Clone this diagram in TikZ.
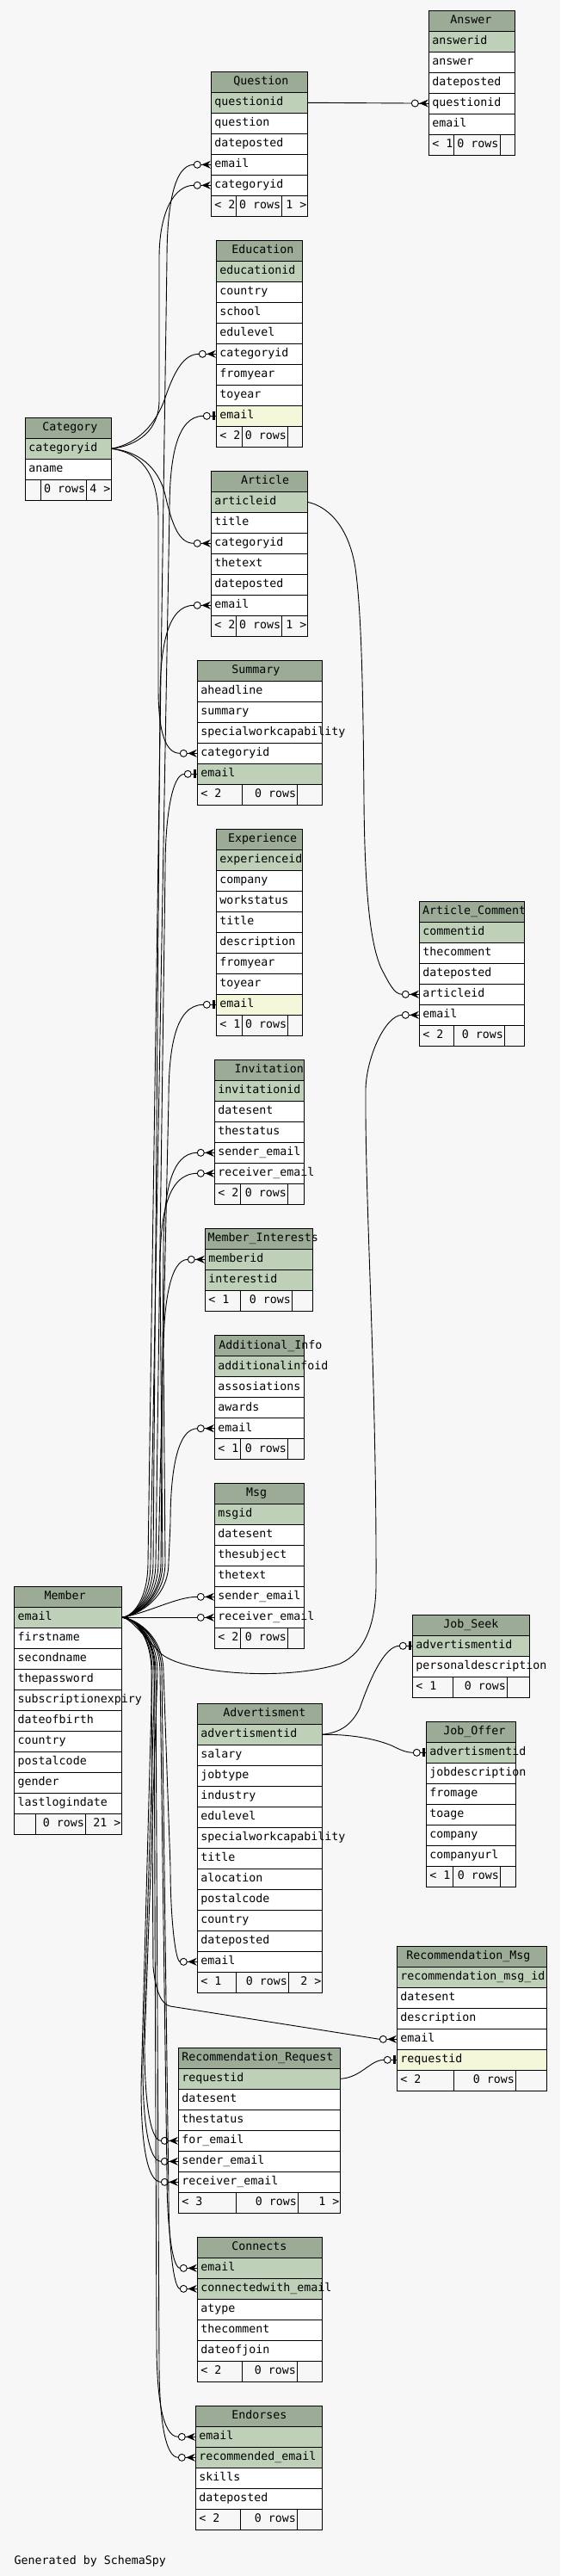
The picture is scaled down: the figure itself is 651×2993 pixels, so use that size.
\documentclass[tikz,border=0pt]{standalone}
\usepackage{fontspec}
\newfontfamily\erfont{DejaVu Sans Mono}
\definecolor{bgc}{HTML}{F7F7F7}
\definecolor{hdrc}{HTML}{9BAB96}
\definecolor{keyc}{HTML}{BED1B8}
\definecolor{idxc}{HTML}{F4F7DA}
\tikzset{
 ercell/.style={draw=black, line width=1pt, rectangle, anchor=north west, minimum height=24pt, inner sep=0pt, outer sep=0pt},
 ertext/.style={anchor=base west, inner sep=0pt, outer sep=0pt, font=\erfont\fontsize{13.3pt}{16pt}\selectfont},
 erconn/.style={draw=black, line width=0.9pt},
}
\newcommand\ernext{\pgfmathsetmacro\ertmpy{\ty+24}\global\let\ty\ertmpy}
\newcommand\erbeg[6]{%
 \gdef\tx{#2}\gdef\tw{#4}\gdef\ty{#3}%
 \node[ercell, fill=hdrc, minimum width=#4pt] (#1) at (#2,#3) {};%
 \node[ertext] (#1-t) at (#6,#3+15.5) {#5};%
 \ernext}
\newcommand\errow[3]{%
 \node[ercell, fill=#2, minimum width=\tw pt] (#1) at (\tx,\ty) {};%
 \node[ertext] (#1-t) at (\tx+4,\ty+15.5) {#3};%
 \ernext}
\newcommand\erfoot[6]{%
 \node[ercell, fill=bgc, minimum width=\tw pt] (#1) at (\tx,\ty) {};%
 \draw[line width=1pt] (#2,\ty) -- (#2,\ty+24);%
 \draw[line width=1pt] (#3,\ty) -- (#3,\ty+24);%
 \node[ertext] (#1-l) at (\tx+4,\ty+15.5) {#4};%
 \node[ertext, anchor=base east] (#1-m) at (#3-1.5,\ty+15.5) {#5};%
 \node[ertext, anchor=base east] (#1-r) at (\tx+\tw-1,\ty+15.5) {#6};}
\newcommand\emany[1]{%
 \coordinate (#1-in) at ([xshift=-20pt]#1.west);%
 \draw[erconn, fill=white] ([xshift=-16pt]#1.west) circle[radius=4pt];%
 \draw[erconn] ([xshift=-12pt]#1.west) -- (#1.west);%
 \fill ([xshift=-11pt]#1.west) -- ([xshift=-0.5pt,yshift=4.5pt]#1.west) -- ([xshift=-4pt]#1.west) -- ([xshift=-0.5pt,yshift=-4.5pt]#1.west) -- cycle;}
\newcommand\eone[1]{%
 \coordinate (#1-in) at ([xshift=-15pt]#1.west);%
 \draw[erconn, fill=white] ([xshift=-11pt]#1.west) circle[radius=4pt];%
 \draw[erconn] ([xshift=-7pt]#1.west) -- (#1.west);%
 \fill ([xshift=-4.5pt,yshift=-5pt]#1.west) rectangle ([xshift=-1.5pt,yshift=5pt]#1.west);}
\newcommand\mup[4]{\draw[erconn] (M-email.east) .. controls (152,1879) and (#2,1862) .. (#2,1815) -- (#3,#4+110) .. controls (#3,#4+50) and (#3+8,#4) .. (#1-in);}
\newcommand\mdown[4]{\draw[erconn] (M-email.east) .. controls (152,1879) and (#2,1896) .. (#2,1943) -- (#3,#4-110) .. controls (#3,#4-50) and (#3+6,#4) .. (#1-in);}
\begin{document}
\begin{tikzpicture}[x=1pt,y=-1pt]
\fill[bgc] (0,0) rectangle (651,2993);
\useasboundingbox (0,0) rectangle (651,2993);
% Question
\erbeg{Q}{245.3}{83.3}{112}{Question}{271.3}
\errow{Q-questionid}{keyc}{questionid}
\errow{Q-question}{white}{question}
\errow{Q-dateposted}{white}{dateposted}
\errow{Q-email}{white}{email}
\errow{Q-categoryid}{white}{categoryid}
\erfoot{Q-f}{274.7}{327.7}{< 2}{0 rows}{1 >}
% Answer
\erbeg{AN}{498.3}{12}{100}{Answer}{523.3}
\errow{AN-answerid}{keyc}{answerid}
\errow{AN-answer}{white}{answer}
\errow{AN-dateposted}{white}{dateposted}
\errow{AN-questionid}{white}{questionid}
\errow{AN-email}{white}{email}
\erfoot{AN-f}{527.3}{581}{< 1}{0 rows}{}
% Education
\erbeg{E}{251.3}{279.3}{100}{Education}{269.3}
\errow{E-educationid}{keyc}{educationid}
\errow{E-country}{white}{country}
\errow{E-school}{white}{school}
\errow{E-edulevel}{white}{edulevel}
\errow{E-categoryid}{white}{categoryid}
\errow{E-fromyear}{white}{fromyear}
\errow{E-toyear}{white}{toyear}
\errow{E-email}{idxc}{email}
\erfoot{E-f}{281.7}{334.3}{< 2}{0 rows}{}
% Category
\erbeg{C}{29.3}{485.3}{100}{Category}{49.3}
\errow{C-categoryid}{keyc}{categoryid}
\errow{C-aname}{white}{aname}
\erfoot{C-f}{47.3}{100.7}{}{0 rows}{4 >}
% Article
\erbeg{AR}{245.3}{547.3}{112}{Article}{280}
\errow{AR-articleid}{keyc}{articleid}
\errow{AR-title}{white}{title}
\errow{AR-categoryid}{white}{categoryid}
\errow{AR-thetext}{white}{thetext}
\errow{AR-dateposted}{white}{dateposted}
\errow{AR-email}{white}{email}
\erfoot{AR-f}{274.7}{327.7}{< 2}{0 rows}{1 >}
% Summary
\erbeg{S}{229.3}{767.3}{145}{Summary}{269.3}
\errow{S-aheadline}{white}{aheadline}
\errow{S-summary}{white}{summary}
\errow{S-swc}{white}{specialworkcapability}
\errow{S-categoryid}{white}{categoryid}
\errow{S-email}{keyc}{email}
\erfoot{S-f}{281.7}{345.7}{< 2}{0 rows}{}
% Experience
\erbeg{X}{251.3}{963.3}{100}{Experience}{265}
\errow{X-experienceid}{keyc}{experienceid}
\errow{X-company}{white}{company}
\errow{X-workstatus}{white}{workstatus}
\errow{X-title}{white}{title}
\errow{X-description}{white}{description}
\errow{X-fromyear}{white}{fromyear}
\errow{X-toyear}{white}{toyear}
\errow{X-email}{idxc}{email}
\erfoot{X-f}{281.7}{334.7}{< 1}{0 rows}{}
% Article_Comment
\erbeg{AC}{487.3}{1047.3}{122}{Article\_Comment}{491}
\errow{AC-commentid}{keyc}{commentid}
\errow{AC-thecomment}{white}{thecomment}
\errow{AC-dateposted}{white}{dateposted}
\errow{AC-articleid}{white}{articleid}
\errow{AC-email}{white}{email}
\erfoot{AC-f}{527.7}{586.3}{< 2}{0 rows}{}
% Invitation
\erbeg{I}{249.3}{1231.3}{104}{Invitation}{272.7}
\errow{I-invitationid}{keyc}{invitationid}
\errow{I-datesent}{white}{datesent}
\errow{I-thestatus}{white}{thestatus}
\errow{I-sender}{white}{sender\_email}
\errow{I-receiver}{white}{receiver\_email}
\erfoot{I-f}{279.3}{334.3}{< 2}{0 rows}{}
% Member_Interests
\erbeg{MI}{238.3}{1427.3}{125}{Member\_Interests}{241.7}
\errow{MI-memberid}{keyc}{memberid}
\errow{MI-interestid}{keyc}{interestid}
\erfoot{MI-f}{279.3}{339.3}{< 1}{0 rows}{}
% Additional_Info
\erbeg{AI}{249.3}{1551.7}{104}{Additional\_Info}{254.3}
\errow{AI-additionalinfoid}{keyc}{additionalinfoid}
\errow{AI-assosiations}{white}{assosiations}
\errow{AI-awards}{white}{awards}
\errow{AI-email}{white}{email}
\erfoot{AI-f}{279.3}{334.3}{< 1}{0 rows}{}
% Msg
\erbeg{MS}{249.3}{1723.3}{104}{Msg}{286}
\errow{MS-msgid}{keyc}{msgid}
\errow{MS-datesent}{white}{datesent}
\errow{MS-thesubject}{white}{thesubject}
\errow{MS-thetext}{white}{thetext}
\errow{MS-sender}{white}{sender\_email}
\errow{MS-receiver}{white}{receiver\_email}
\erfoot{MS-f}{279.3}{334.3}{< 2}{0 rows}{}
% Member
\erbeg{M}{16.7}{1843.3}{124.6}{Member}{51.7}
\errow{M-email}{keyc}{email}
\errow{M-firstname}{white}{firstname}
\errow{M-secondname}{white}{secondname}
\errow{M-thepassword}{white}{thepassword}
\errow{M-subscriptionexpiry}{white}{subscriptionexpiry}
\errow{M-dateofbirth}{white}{dateofbirth}
\errow{M-country}{white}{country}
\errow{M-postalcode}{white}{postalcode}
\errow{M-gender}{white}{gender}
\errow{M-lastlogindate}{white}{lastlogindate}
\erfoot{M-f}{41.7}{99.3}{}{0 rows}{21 >}
% Advertisment
\erbeg{AD}{229.3}{1979.3}{145}{Advertisment}{259.3}
\errow{AD-advertismentid}{keyc}{advertismentid}
\errow{AD-salary}{white}{salary}
\errow{AD-jobtype}{white}{jobtype}
\errow{AD-industry}{white}{industry}
\errow{AD-edulevel}{white}{edulevel}
\errow{AD-swc}{white}{specialworkcapability}
\errow{AD-title}{white}{title}
\errow{AD-alocation}{white}{alocation}
\errow{AD-postalcode}{white}{postalcode}
\errow{AD-country}{white}{country}
\errow{AD-dateposted}{white}{dateposted}
\errow{AD-email}{white}{email}
\erfoot{AD-f}{274.3}{335.3}{< 1}{0 rows}{2 >}
% Job_Seek
\erbeg{JS}{479.3}{1876.3}{136}{Job\_Seek}{515.3}
\errow{JS-advertismentid}{keyc}{advertismentid}
\errow{JS-personaldescription}{white}{personaldescription}
\erfoot{JS-f}{526.3}{589.3}{< 1}{0 rows}{}
% Job_Offer
\erbeg{JO}{495.3}{2000.3}{104}{Job\_Offer}{515.3}
\errow{JO-advertismentid}{keyc}{advertismentid}
\errow{JO-jobdescription}{white}{jobdescription}
\errow{JO-fromage}{white}{fromage}
\errow{JO-toage}{white}{toage}
\errow{JO-company}{white}{company}
\errow{JO-companyurl}{white}{companyurl}
\erfoot{JO-f}{526.7}{581.3}{< 1}{0 rows}{}
% Recommendation_Msg
\erbeg{RM}{461.3}{2261.3}{174}{Recommendation\_Msg}{472.3}
\errow{RM-id}{keyc}{recommendation\_msg\_id}
\errow{RM-datesent}{white}{datesent}
\errow{RM-description}{white}{description}
\errow{RM-email}{white}{email}
\errow{RM-requestid}{idxc}{requestid}
\erfoot{RM-f}{527.3}{599.3}{< 2}{0 rows}{}
% Recommendation_Request
\erbeg{RR}{207.3}{2379.3}{188}{Recommendation\_Request}{211.3}
\errow{RR-requestid}{keyc}{requestid}
\errow{RR-datesent}{white}{datesent}
\errow{RR-thestatus}{white}{thestatus}
\errow{RR-for}{white}{for\_email}
\errow{RR-sender}{white}{sender\_email}
\errow{RR-receiver}{white}{receiver\_email}
\erfoot{RR-f}{274.3}{346.3}{< 3}{0 rows}{1 >}
% Connects
\erbeg{CN}{229.3}{2599.3}{145}{Connects}{269.3}
\errow{CN-email}{keyc}{email}
\errow{CN-cw}{keyc}{connectedwith\_email}
\errow{CN-atype}{white}{atype}
\errow{CN-thecomment}{white}{thecomment}
\errow{CN-dateofjoin}{white}{dateofjoin}
\erfoot{CN-f}{281.7}{345.3}{< 2}{0 rows}{}
% Endorses
\erbeg{EN}{227.3}{2795.3}{147}{Endorses}{269.3}
\errow{EN-email}{keyc}{email}
\errow{EN-rec}{keyc}{recommended\_email}
\errow{EN-skills}{white}{skills}
\errow{EN-dateposted}{white}{dateposted}
\erfoot{EN-f}{279.3}{345.3}{< 2}{0 rows}{}
% footer text
\node[ertext] (gen) at (16.7,2979.3) {Generated by SchemaSpy};
% markers
\emany{AN-questionid}\emany{Q-email}\emany{Q-categoryid}\emany{E-categoryid}\eone{E-email}
\emany{AR-categoryid}\emany{AR-email}\emany{S-categoryid}\eone{S-email}\eone{X-email}
\emany{AC-articleid}\emany{AC-email}\emany{I-sender}\emany{I-receiver}\emany{MI-memberid}
\emany{AI-email}\emany{MS-sender}\emany{MS-receiver}\eone{JS-advertismentid}\eone{JO-advertismentid}
\emany{AD-email}\emany{RM-email}\eone{RM-requestid}\emany{RR-for}\emany{RR-sender}\emany{RR-receiver}
\emany{CN-email}\emany{CN-cw}\emany{EN-email}\emany{EN-rec}
% connectors
\draw[erconn] (Q-questionid.east) -- (AN-questionid-in);
\draw[erconn] (C-categoryid.east) .. controls (160,518) and (185,500) .. (185,465) -- (185,300) .. controls (185,245) and (203,215.3) .. (Q-categoryid-in);
\draw[erconn] (C-categoryid.east) .. controls (160,516) and (182,492) .. (192,462) .. controls (203,430) and (214,411.3) .. (E-categoryid-in);
\draw[erconn] (C-categoryid.east) .. controls (160,524) and (184,542) .. (192,575) .. controls (200,610) and (208,631.3) .. (AR-categoryid-in);
\draw[erconn] (C-categoryid.east) .. controls (163,526) and (183,548) .. (184,600) -- (184,800) .. controls (184,850) and (192,875.3) .. (S-categoryid-in);
\mup{Q-email}{172}{194}{191.3}
\mup{E-email}{175}{197}{483.3}
\mup{AR-email}{178}{186}{703.3}
\mup{S-email}{181}{192}{899.3}
\mup{X-email}{184}{196}{1167.3}
\mup{I-sender}{187}{190}{1339.3}
\mup{I-receiver}{189}{186}{1363.3}
\mup{MI-memberid}{192}{190}{1463.3}
\mup{AI-email}{196}{198}{1659.7}
\draw[erconn] (M-email.east) .. controls (175,1873) and (205,1855.3) .. (MS-sender-in);
\draw[erconn] (M-email.east) -- (MS-receiver-in);
\mdown{AD-email}{190}{198}{2279.3}
\mdown{RR-for}{183}{168}{2487.3}
\mdown{RR-sender}{180}{166}{2511.3}
\mdown{RR-receiver}{177}{164}{2535.3}
\mdown{CN-email}{186}{194}{2635.3}
\mdown{CN-cw}{188}{196}{2659.3}
\mdown{EN-email}{179}{182}{2831.3}
\mdown{EN-rec}{181}{185}{2855.3}
\draw[erconn] (M-email.east) .. controls (152,1879) and (176,1896) .. (176,1943) -- (178,2285) .. controls (181,2315) and (188,2329) .. (198,2331) -- (RM-email-in);
\draw[erconn] (M-email.east) .. controls (152,1879) and (170,1905) .. (188,1922) .. controls (215,1944) and (330,1954) .. (395,1933) .. controls (425,1920) and (436,1885) .. (437,1845) .. controls (438,1600) and (424,1400) .. (425,1265) .. controls (426,1228) and (448,1179.3) .. (AC-email-in);
\draw[erconn] (AR-articleid.east) .. controls (380,588) and (405,610) .. (413,660) .. controls (420,710) and (422,800) .. (423,930) .. controls (424,1050) and (432,1100) .. (443,1125) .. controls (452,1142) and (458,1155.3) .. (AC-articleid-in);
\draw[erconn] (AD-advertismentid.east) .. controls (395,2013) and (408,2005) .. (418,1985) .. controls (432,1945) and (448,1912.3) .. (JS-advertismentid-in);
\draw[erconn] (AD-advertismentid.east) .. controls (400,2015) and (430,2018) .. (455,2028) .. controls (465,2033) and (472,2036.3) .. (JO-advertismentid-in);
\draw[erconn] (RR-requestid.east) .. controls (420,2414) and (430,2393.3) .. (RM-requestid-in);
\end{tikzpicture}
\end{document}
